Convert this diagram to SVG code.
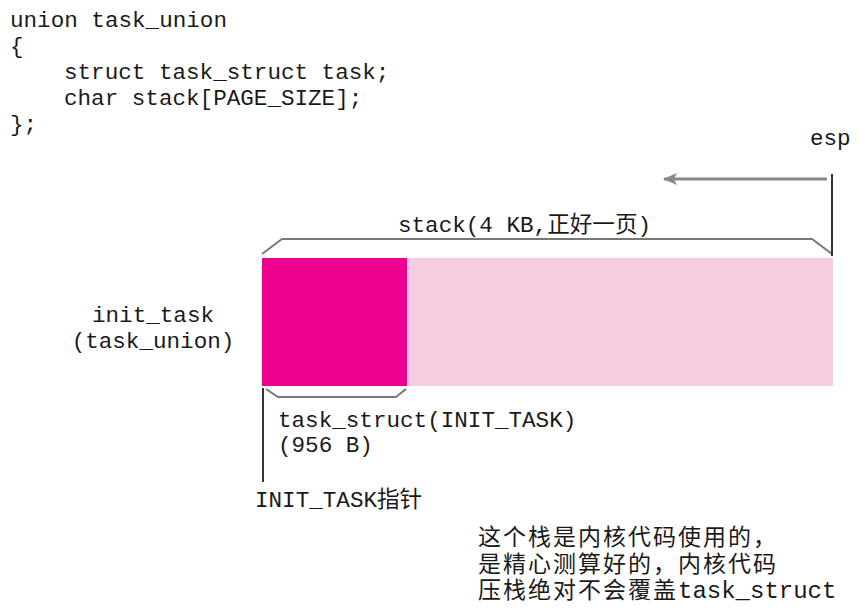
<svg xmlns="http://www.w3.org/2000/svg" width="868" height="611" viewBox="0 0 868 611">
<defs>
<style>
.mono{font-family:"Liberation Mono","Noto Sans CJK SC",monospace;font-size:22.6px;fill:#1a1a1a}
.cn{font-family:"Liberation Mono","Noto Sans CJK SC",monospace;font-size:23px;letter-spacing:2px;fill:#1a1a1a}
.lat{font-size:24px;letter-spacing:0}
.br{fill:none;stroke:#777;stroke-width:2}
.ln{fill:none;stroke:#333;stroke-width:2}
</style>
<marker id="ah" viewBox="0 0 12 10" refX="11" refY="5" markerWidth="6" markerHeight="4" orient="auto" markerUnits="strokeWidth">
<path d="M12,5 L0,0 L3,5 L0,10 Z" fill="#888"/>
</marker>
</defs>
<rect width="868" height="611" fill="#fff"/>
<g id="code">
<text class="mono" x="10" y="27">union task_union</text>
<text class="mono" x="10" y="53">{</text>
<text class="mono" x="64" y="79">struct task_struct task;</text>
<text class="mono" x="64" y="105">char stack[PAGE_SIZE];</text>
<text class="mono" x="10" y="131">};</text>
</g>
<g id="stack">
<rect x="407" y="258" width="426" height="128" fill="#F8CCE0"/>
<rect x="262" y="258" width="145" height="128" fill="#EC008C"/>
</g>
<g id="labels">
<text class="mono" x="153" y="322" text-anchor="middle">init_task</text>
<text class="mono" x="153" y="348" text-anchor="middle">(task_union)</text>
<text class="mono" x="398" y="232">stack(4 KB,正好一页)</text>
<text class="mono" x="810" y="145">esp</text>
<text class="mono" x="278" y="427">task_struct(INIT_TASK)</text>
<text class="mono" x="278" y="452">(956 B)</text>
<text class="mono" x="255" y="507">INIT_TASK指针</text>
<text class="cn" x="478" y="545">这个栈是内核代码使用的，</text>
<text class="cn" x="478" y="572">是精心测算好的，内核代码</text>
<text class="cn" x="478" y="598">压栈绝对不会覆盖<tspan class="lat">task_struct</tspan></text>
</g>
<g id="connectors">
<path class="br" d="M262,254 L282,239 L812,239 L832,254"/>
<path class="ln" d="M832,174 L832,256"/>
<path d="M827,179 L664,179" stroke="#888" stroke-width="3" fill="none" marker-end="url(#ah)"/>
<path class="br" d="M266,389 L278,397 L396,397 L406,389"/>
<path class="ln" d="M263,388 L263,482"/>
</g>
</svg>
